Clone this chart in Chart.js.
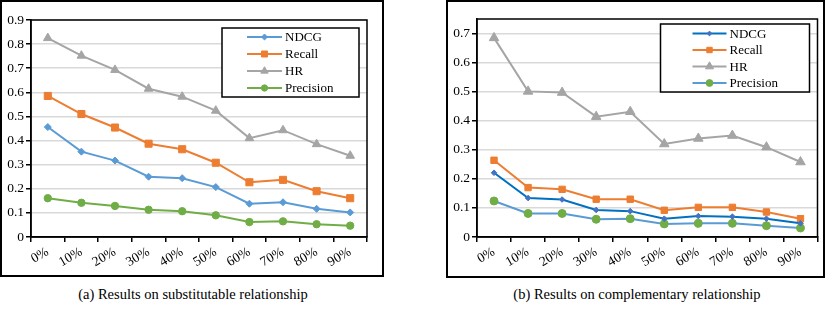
<!DOCTYPE html>
<html>
<head>
<meta charset="utf-8">
<script src="https://cdn.jsdelivr.net/npm/chart.js@4/dist/chart.umd.min.js"></script>
<style>
  body { margin: 0; width: 831px; height: 309px; background: #fff; position: relative; overflow: hidden; font-family: "Liberation Serif", serif; }
  .boite { position: absolute; border: 2px solid #000; box-sizing: border-box; }
  .zone { position: absolute; }
  .legende { position: absolute; top: 286px; font-size: 14.5px; color: #000; white-space: nowrap; text-align: center; width: 400px; }
</style>
</head>
<body>
<div class="boite" style="left:0px;top:0px;width:384px;height:277px;"></div>
<div class="boite" style="left:446px;top:0px;width:379px;height:278px;"></div>
<div class="zone" style="left:0px;top:0px;width:384px;height:277px;"><canvas id="gauche"></canvas></div>
<div class="zone" style="left:446px;top:0px;width:378px;height:277px;"><canvas id="droite"></canvas></div>
<div class="legende" style="left:-7px;">(a) Results on substitutable relationship</div>
<div class="legende" style="left:437px;">(b) Results on complementary relationship</div>
<script>
// the data
var categories = ['0%', '10%', '20%', '30%', '40%', '50%', '60%', '70%', '80%', '90%'];
var seriesNames = ['NDCG', 'Recall', 'HR', 'Precision'];

// (a) substitutable
var subNdcg = [0.456, 0.354, 0.317, 0.250, 0.244, 0.207, 0.138, 0.144, 0.117, 0.102];
var subRecall = [0.585, 0.510, 0.454, 0.387, 0.364, 0.308, 0.227, 0.237, 0.190, 0.161];
var subHr = [0.825, 0.752, 0.693, 0.615, 0.582, 0.524, 0.410, 0.443, 0.385, 0.337];
var subPrecision = [0.161, 0.142, 0.129, 0.113, 0.107, 0.090, 0.062, 0.065, 0.053, 0.047];
var subTicks = [0, 0.1, 0.2, 0.3, 0.4, 0.5, 0.6, 0.7, 0.8, 0.9];

// (b) complementary
var compNdcg = [0.221, 0.134, 0.129, 0.093, 0.089, 0.063, 0.072, 0.070, 0.063, 0.047];
var compRecall = [0.264, 0.170, 0.164, 0.130, 0.130, 0.092, 0.102, 0.102, 0.086, 0.063];
var compHr = [0.685, 0.501, 0.497, 0.414, 0.431, 0.320, 0.339, 0.349, 0.309, 0.258];
var compPrecision = [0.124, 0.081, 0.081, 0.061, 0.063, 0.045, 0.047, 0.047, 0.039, 0.031];
var compTicks = [0, 0.1, 0.2, 0.3, 0.4, 0.5, 0.6, 0.7];

Chart.defaults.font.family = '"Liberation Serif", serif';
Chart.defaults.font.size = 13;
Chart.defaults.color = '#000';

// frame round the plot area + boxed legend inside it
var cadreLegende = {
  id: 'cadreLegende',
  afterDraw: function (chart, args, opts) {
    var ctx = chart.ctx;
    var a = chart.chartArea;
    ctx.save();
    ctx.strokeStyle = '#000';
    ctx.lineWidth = 1.5;
    ctx.strokeRect(a.left, a.top, a.right - a.left, a.bottom - a.top);

    var bx = a.right - opts.right - opts.w;
    var by = a.top + opts.top;
    ctx.fillStyle = '#fff';
    ctx.fillRect(bx, by, opts.w, opts.h);
    ctx.strokeRect(bx, by, opts.w, opts.h);

    chart.data.datasets.forEach(function (ds, i) {
      var y = by + opts.first + i * opts.step;
      var x0 = bx + opts.lineX;
      ctx.strokeStyle = ds.borderColor;
      ctx.lineWidth = 2;
      ctx.beginPath();
      ctx.moveTo(x0, y);
      ctx.lineTo(x0 + opts.lineLen, y);
      ctx.stroke();
      ctx.fillStyle = ds.pointBackgroundColor;
      ctx.strokeStyle = ds.pointBorderColor;
      ctx.lineWidth = 1;
      Chart.helpers.drawPoint(ctx, { pointStyle: ds.pointStyle, radius: ds.pointRadius * 0.85, rotation: 0, borderWidth: 1 }, x0 + opts.lineLen / 2, y);
      ctx.fillStyle = '#000';
      ctx.font = '13px "Liberation Serif"';
      ctx.textBaseline = 'middle';
      ctx.textAlign = 'left';
      ctx.fillText(ds.label, bx + opts.textX, y + 1);
    });
    ctx.restore();
  }
};

function serie (label, data, ligne, point, style, rayon) {
  return {
    label: label,
    data: data,
    borderColor: ligne,
    backgroundColor: point,
    pointBackgroundColor: point,
    pointBorderColor: point,
    pointStyle: style,
    pointRadius: rayon,
    pointBorderWidth: 1,
    borderWidth: 2,
    tension: 0
  };
}

function graphique (id, datasets, ticks, maxY, padRight, padTop, legende) {
  var ctx = document.getElementById(id).getContext('2d');
  return new Chart(ctx, {
    type: 'line',
    data: { labels: categories, datasets: datasets },
    options: {
      responsive: true,
      maintainAspectRatio: false,
      animation: false,
      layout: { padding: { left: 0, right: padRight, top: padTop, bottom: 0 } },
      plugins: {
        legend: { display: false },
        tooltip: { enabled: false },
        cadreLegende: legende
      },
      scales: {
        x: {
          offset: true,
          grid: { drawOnChartArea: false, drawTicks: true, tickLength: 5, offset: true, color: '#000', lineWidth: 1.5 },
          border: { color: '#000', width: 1.5 },
          ticks: { maxRotation: 30, minRotation: 30, padding: 2, font: { size: 13.5 } },
          afterFit: function (s) { s.height = 40; }
        },
        y: {
          min: 0,
          max: maxY,
          afterBuildTicks: function (s) {
            s.ticks = ticks.map(function (v) { return { value: v }; });
          },
          grid: { color: '#d9d9d9', lineWidth: 1.5, tickColor: '#000', tickLength: 5, drawTicks: true },
          border: { color: '#000', width: 1.5 },
          ticks: {
            padding: 2,
            font: { size: 13.5 },
            callback: function (v) { return v === 0 ? '0' : v.toFixed(1); }
          },
          afterFit: function (s) { s.width = 31; }
        }
      }
    },
    plugins: [cadreLegende]
  });
}

graphique('gauche', [
  serie(seriesNames[0], subNdcg, '#5b9bd5', '#5b9bd5', 'rectRot', 3.5),
  serie(seriesNames[1], subRecall, '#ed7d31', '#ed7d31', 'rect', 5),
  serie(seriesNames[2], subHr, '#a5a5a5', '#a5a5a5', 'triangle', 5),
  serie(seriesNames[3], subPrecision, '#70ad47', '#70ad47', 'circle', 3.7)
], subTicks, 0.9, 17, 20, { right: 8, top: 8, w: 137, h: 69, first: 9, step: 17, lineX: 25, lineLen: 35, textX: 63 });

graphique('droite', [
  serie(seriesNames[0], compNdcg, '#0070c0', '#4472c4', 'rectRot', 2.8),
  serie(seriesNames[1], compRecall, '#ed7d31', '#ed7d31', 'rect', 4.5),
  serie(seriesNames[2], compHr, '#a5a5a5', '#a5a5a5', 'triangle', 5.5),
  serie(seriesNames[3], compPrecision, '#5b9bd5', '#70ad47', 'circle', 4)
], compTicks, 0.75, 6, 19, { right: 8, top: 5, w: 149, h: 68, first: 9.5, step: 16.5, lineX: 32, lineLen: 34, textX: 69 });
</script>
</body>
</html>
